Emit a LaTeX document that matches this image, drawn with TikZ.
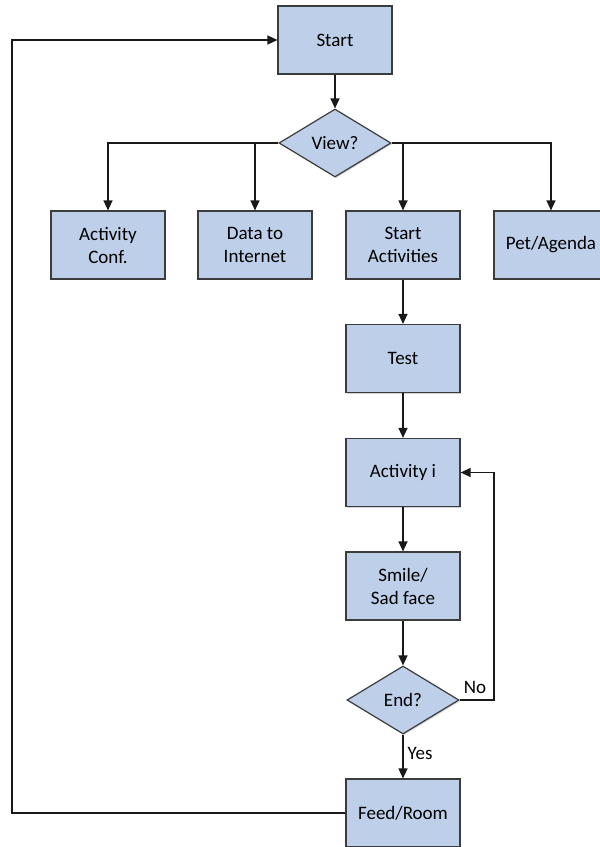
\documentclass[tikz,border=0pt]{standalone}
\usepackage{fontspec}
\setmainfont{Carlito}
\usetikzlibrary{shapes.geometric,arrows.meta,shadows}

\definecolor{boxfill}{RGB}{189,207,233}
\definecolor{boxline}{RGB}{60,60,60}
\definecolor{wire}{RGB}{25,25,25}

\tikzset{
  procbox/.style={rectangle, draw=boxline, line width=1.2pt, fill=boxfill,
    minimum width=114pt, minimum height=68pt, inner sep=0pt, align=center,
    font=\fontsize{19}{23}\selectfont,
    drop shadow={shadow xshift=1.2pt, shadow yshift=-1.2pt, opacity=0.35, fill=gray}},
  decision/.style={diamond, draw=boxline, line width=1.2pt, fill=boxfill,
    aspect=1.65, minimum width=112pt, minimum height=68pt, inner sep=0pt,
    font=\fontsize{19}{23}\selectfont,
    drop shadow={shadow xshift=1.2pt, shadow yshift=-1.2pt, opacity=0.35, fill=gray}},
  flow/.style={draw=wire, line width=1.3pt, -{Triangle[length=10pt,width=9pt]}},
  tag/.style={font=\fontsize{19}{23}\selectfont, inner sep=0pt}
}

\begin{document}
\begin{tikzpicture}[x=1pt, y=-1pt]
  \clip (0,0) rectangle (600,847);
  \fill[white] (0,0) rectangle (600,847);

  % main column
  \node[procbox] (start) at (335,40) {Start};
  \node[decision] (view) at (335,143) {View?};

  % options row
  \node[procbox] (conf) at (108,245) {Activity\\Conf.};
  \node[procbox] (data) at (255,245) {Data to\\Internet};
  \node[procbox] (sact) at (403,245) {Start\\Activities};
  \node[procbox] (pet)  at (551,245) {Pet/Agenda};

  % activity loop
  \node[procbox] (test)  at (403,358.5) {Test};
  \node[procbox] (acti)  at (403,472.5) {Activity i};
  \node[procbox] (smile) at (403,586) {Smile/\\Sad face};
  \node[decision] (endq) at (403,700) {End?};
  \node[procbox] (feed)  at (403,813) {Feed/Room};

  \coordinate (noturn) at (494,700);
  \coordinate (backcorner) at (12,813);

  % connectors
  \draw[flow] (start) -- (view);
  \draw[flow] (view.west) -| (conf.north);
  \draw[flow] (view.west) -| (data.north);
  \draw[flow] (view.east) -| (sact.north);
  \draw[flow] (view.east) -| (pet.north);
  \draw[flow] (sact) -- (test);
  \draw[flow] (test) -- (acti);
  \draw[flow] (acti) -- (smile);
  \draw[flow] (smile) -- (endq);
  \draw[flow] (endq) -- node[tag, anchor=west, xshift=4pt, yshift=3pt] {Yes} (feed);
  \draw[flow] (endq.east) -- (noturn) |- (acti.east);
  \node[tag, anchor=south west] at ([xshift=4pt, yshift=6pt]endq.east) {No};
  \draw[flow] (feed.west) -- (backcorner) |- (start.west);
\end{tikzpicture}
\end{document}
